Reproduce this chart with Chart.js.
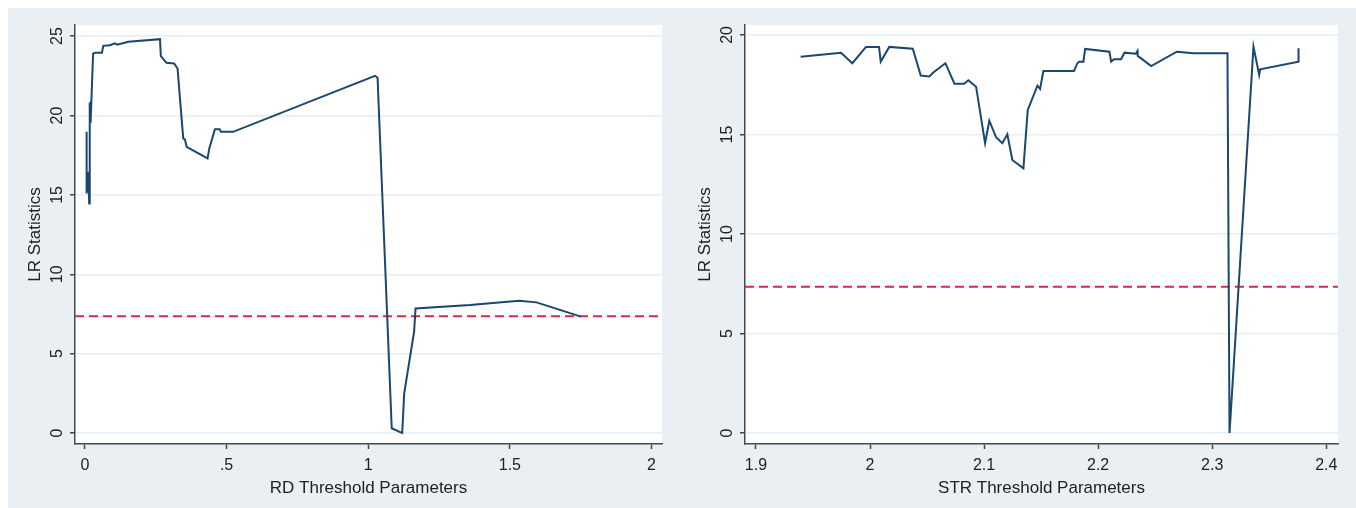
<!DOCTYPE html>
<html>
<head>
<meta charset="utf-8">
<script src="https://cdn.jsdelivr.net/npm/chart.js@4"></script>
<style>
    html, body { margin: 0; padding: 0; background: #ffffff; }
    #panel {
        position: absolute; left: 8px; top: 8px; width: 1348px; height: 500px;
        background: #e9eff2;
    }
    canvas { position: absolute; top: 8px; }
    #rdChart { left: 8px; }
    #strChart { left: 678px; }
</style>
</head>
<body>
<div id="panel"></div>
<canvas id="rdChart" width="670" height="500"></canvas>
<canvas id="strChart" width="678" height="500"></canvas>
<script>
// RD threshold search
const rdX = [0.006, 0.006, 0.012, 0.015, 0.017, 0.018, 0.020, 0.021, 0.025, 0.029, 0.035,
    0.060, 0.065, 0.088, 0.106, 0.114, 0.153, 0.265, 0.268, 0.288, 0.315, 0.327, 0.347,
    0.353, 0.359, 0.433, 0.439, 0.459, 0.476, 0.480, 0.523, 1.024, 1.033, 1.083, 1.120,
    1.127, 1.162, 1.167, 1.359, 1.533, 1.594, 1.751];
const rdLR = [18.97, 15.09, 16.45, 14.46, 20.8, 19.6, 20.9, 19.8, 22.0, 23.9, 23.95,
    23.95, 24.39, 24.43, 24.54, 24.46, 24.64, 24.81, 23.74, 23.32, 23.28, 22.96, 18.56,
    18.5, 18.03, 17.3, 17.93, 19.14, 19.14, 18.97, 18.97, 22.5, 22.38, 0.3, 0.0,
    2.5, 6.38, 7.85, 8.06, 8.33, 8.23, 7.33];

// STR threshold search
const strX = [1.9392, 1.9746, 1.9845, 1.9965, 2.0079, 2.0094, 2.0169, 2.0375, 2.0445, 2.052,
    2.0555, 2.0661, 2.074, 2.0825, 2.0862, 2.093, 2.1009, 2.1046, 2.1105, 2.116, 2.1204,
    2.1248, 2.1345, 2.1383, 2.1468, 2.1491, 2.152, 2.1789, 2.1818, 2.1833, 2.1871, 2.1886,
    2.2099, 2.2114, 2.214, 2.2202, 2.2231, 2.233, 2.2345, 2.2347, 2.2368, 2.2465, 2.269,
    2.2836, 2.3134, 2.3152, 2.3362, 2.3412, 2.3421, 2.3757, 2.3757];
const strLR = [18.91, 19.11, 18.58, 19.40, 19.40, 18.66, 19.40, 19.31, 17.96, 17.91,
    18.11, 18.58, 17.55, 17.55, 17.72, 17.40, 14.56, 15.69, 14.86, 14.56, 15.01,
    13.72, 13.30, 16.23, 17.45, 17.29, 18.19, 18.19, 18.58, 18.66, 18.66, 19.30,
    19.16, 18.66, 18.78, 18.78, 19.11, 19.06, 19.20, 18.94, 18.86, 18.44, 19.16,
    19.08, 19.08, 0.0, 19.41, 17.99, 18.27, 18.66, 19.33];

// 5% critical value
const critLR = 7.35;

const rdXTicks = [0, 0.5, 1, 1.5, 2];
const rdXTickLabels = ["0", ".5", "1", "1.5", "2"];
const rdYTicks = [0, 5, 10, 15, 20, 25];
const strXTicks = [1.9, 2, 2.1, 2.2, 2.3, 2.4];
const strXTickLabels = ["1.9", "2", "2.1", "2.2", "2.3", "2.4"];
const strYTicks = [0, 5, 10, 15, 20];

Chart.defaults.font.family = "'Liberation Sans', Arial, sans-serif";
Chart.defaults.color = "#222222";

const whitePlot = {
    id: "whitePlot",
    beforeDraw(chart) {
        const a = chart.chartArea;
        const c = chart.ctx;
        c.save();
        c.fillStyle = "#ffffff";
        c.fillRect(a.left, a.top, a.right - a.left, a.bottom - a.top);
        c.restore();
    },
};

function makeChart(id, xs, ys, xMin, xMax, yMin, yMax, xTicks, xLabels, yTicks, xTitle, padRight) {
    const pts = xs.map((x, i) => ({ x: x, y: ys[i] }));
    return new Chart(document.getElementById(id), {
        type: "scatter",
        data: {
            datasets: [
                {
                    data: pts,
                    showLine: true,
                    borderColor: "#1a476f",
                    borderWidth: 2,
                    pointRadius: 0,
                    tension: 0,
                },
                {
                    data: [{ x: xMin, y: critLR }, { x: xMax, y: critLR }],
                    showLine: true,
                    borderColor: "#d42b48",
                    borderWidth: 2,
                    borderDash: [9, 5],
                    pointRadius: 0,
                },
            ],
        },
        options: {
            responsive: false,
            animation: false,
            devicePixelRatio: 1,
            layout: { padding: { top: 17, right: padRight, bottom: 0, left: 0 } },
            plugins: { legend: { display: false }, tooltip: { enabled: false } },
            scales: {
                x: {
                    type: "linear",
                    min: xMin,
                    max: xMax,
                    afterBuildTicks: (s) => { s.ticks = xTicks.map((v) => ({ value: v })); },
                    afterFit: (s) => { s.height = 64; },
                    ticks: {
                        font: { size: 16 },
                        padding: 7,
                        maxRotation: 0,
                        callback: (v, i) => xLabels[i],
                    },
                    grid: { display: true, drawOnChartArea: false, drawTicks: true, tickLength: 5, tickColor: "#444", tickWidth: 1.5 },
                    border: { display: true, color: "#4a4a4a", width: 1.5 },
                    title: { display: true, text: xTitle, font: { size: 17 }, padding: { top: 4, bottom: 9 } },
                },
                y: {
                    type: "linear",
                    min: yMin,
                    max: yMax,
                    afterBuildTicks: (s) => { s.ticks = yTicks.map((v) => ({ value: v })); },
                    afterFit: (s) => { s.width = 67; },
                    ticks: {
                        font: { size: 16 },
                        padding: 4,
                        minRotation: 90,
                        maxRotation: 90,
                        crossAlign: "center",
                        callback: (v) => String(v),
                    },
                    grid: { color: "#e6eef1", lineWidth: 1.5, tickLength: 5, tickColor: "#444", tickWidth: 1.5 },
                    border: { display: true, color: "#4a4a4a", width: 1.5 },
                    title: { display: true, text: "LR Statistics", font: { size: 17 }, padding: { top: 17, bottom: 4 } },
                },
            },
        },
        plugins: [whitePlot],
    });
}

makeChart("rdChart", rdX, rdLR, -0.035, 2.037, -0.69, 25.7,
    rdXTicks, rdXTickLabels, rdYTicks, "RD Threshold Parameters", 16);
makeChart("strChart", strX, strLR, 1.8904, 2.4103, -0.55, 20.5,
    strXTicks, strXTickLabels, strYTicks, "STR Threshold Parameters", 18);
</script>
</body>
</html>
